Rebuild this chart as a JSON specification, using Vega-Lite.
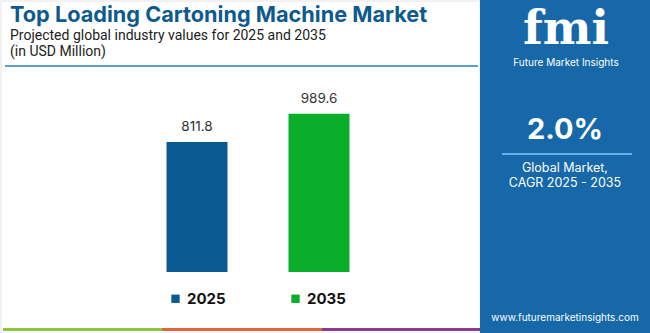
{
  "$schema": "https://vega.github.io/schema/vega-lite/v6.json",
  "autosize": {"type": "none"},
  "width": 244,
  "height": 192,
  "padding": {"left": 136, "top": 80, "right": 270, "bottom": 61},
  "background": "white",
  "config": {"view": {"stroke": null}, "font": "Inter"},
  "layer": [
    {
      "data": {"values": [{}]},
      "mark": {"type": "rect", "x": -135, "x2": 344, "y": -79, "y2": 253, "fill": "white", "stroke": "#e4e4e4", "strokeWidth": 1}
    },
    {
      "data": {"values": [{}]},
      "mark": {"type": "rect", "x": 344, "x2": 514, "y": -80, "y2": 253, "fill": "#1668a8"}
    },
    {
      "data": {"values": [{}]},
      "mark": {"type": "rect", "x": -131, "x2": 342, "y": -15, "y2": -13, "fill": "#5e9fcb"}
    },
    {
      "data": {"values": [{}]},
      "mark": {"type": "rect", "x": -133, "x2": 26, "y": 248, "y2": 251, "fill": "#8dc63f"}
    },
    {
      "data": {"values": [{}]},
      "mark": {"type": "rect", "x": 26, "x2": 186, "y": 248, "y2": 251, "fill": "#e0653d"}
    },
    {
      "data": {"values": [{}]},
      "mark": {"type": "rect", "x": 186, "x2": 344, "y": 248, "y2": 251, "fill": "#8a3b8f"}
    },
    {
      "data": {"values": [{}]},
      "mark": {"type": "text", "text": "Top Loading Cartoning Machine Market", "x": -126, "y": -58, "align": "left", "baseline": "alphabetic", "fontSize": 21.7, "fontWeight": "bold", "color": "#0d5a8e"}
    },
    {
      "data": {"values": [{}]},
      "mark": {"type": "text", "text": "Projected global industry values for 2025 and 2035", "x": -126, "y": -40, "align": "left", "baseline": "alphabetic", "fontSize": 14, "font": "Roboto", "color": "#222222"}
    },
    {
      "data": {"values": [{}]},
      "mark": {"type": "text", "text": "(in USD Million)", "x": -126, "y": -24, "align": "left", "baseline": "alphabetic", "fontSize": 14, "font": "Roboto", "color": "#222222"}
    },
    {
      "data": {"values": [{}]},
      "mark": {"type": "text", "text": "fmi", "x": 430, "y": -36, "align": "center", "baseline": "alphabetic", "fontSize": 46, "fontWeight": "bold", "font": "DejaVu Serif", "color": "white"}
    },
    {
      "data": {"values": [{}]},
      "mark": {"type": "text", "text": "Future Market Insights", "x": 430, "y": -14, "align": "center", "baseline": "alphabetic", "fontSize": 10, "color": "white"}
    },
    {
      "data": {"values": [{}]},
      "mark": {"type": "text", "text": "2.0%", "x": 429, "y": 59, "align": "center", "baseline": "alphabetic", "fontSize": 29, "fontWeight": "bold", "color": "white"}
    },
    {
      "data": {"values": [{}]},
      "mark": {"type": "rect", "x": 366, "x2": 496, "y": 73, "y2": 75, "fill": "#5db3ea"}
    },
    {
      "data": {"values": [{}]},
      "mark": {"type": "text", "text": "Global Market,", "x": 429, "y": 92, "align": "center", "baseline": "alphabetic", "fontSize": 12.5, "color": "white"}
    },
    {
      "data": {"values": [{}]},
      "mark": {"type": "text", "text": "CAGR 2025 - 2035", "x": 429, "y": 107, "align": "center", "baseline": "alphabetic", "fontSize": 12.5, "color": "white"}
    },
    {
      "data": {"values": [{}]},
      "mark": {"type": "text", "text": "www.futuremarketinsights.com", "x": 429, "y": 241, "align": "center", "baseline": "alphabetic", "fontSize": 10, "color": "white"}
    },
    {
      "data": {"values": [{"year": "2025", "value": 811.8}, {"year": "2035", "value": 989.6}]},
      "layer": [
        {
          "mark": {"type": "bar"},
          "encoding": {
            "x": {"field": "year", "type": "nominal", "axis": null, "scale": {"paddingInner": 0.5, "paddingOuter": 0.25}},
            "y": {"field": "value", "type": "quantitative", "scale": {"domain": [0, 1200]}, "axis": {"values": [0, 200, 400, 600, 800, 1000, 1200], "grid": true, "gridColor": "#ececec", "labels": false, "ticks": false, "domain": false, "title": null}},
            "color": {"field": "year", "type": "nominal", "scale": {"range": ["#0b5a92", "#0aae2b"]}, "legend": {"orient": "none", "legendX": 32, "legendY": 211, "direction": "horizontal", "columns": 2, "columnPadding": 62, "title": null, "symbolType": "square", "symbolSize": 70, "symbolStrokeWidth": 0, "labelFontSize": 15, "labelFontWeight": "bold", "labelColor": "#111111", "labelOffset": 4}}
          }
        },
        {
          "mark": {"type": "text", "dy": -8, "baseline": "bottom", "fontSize": 13.5, "color": "#333333"},
          "encoding": {
            "x": {"field": "year", "type": "nominal"},
            "y": {"field": "value", "type": "quantitative"},
            "text": {"field": "value", "type": "quantitative", "format": ".1f"}
          }
        }
      ]
    }
  ]
}
